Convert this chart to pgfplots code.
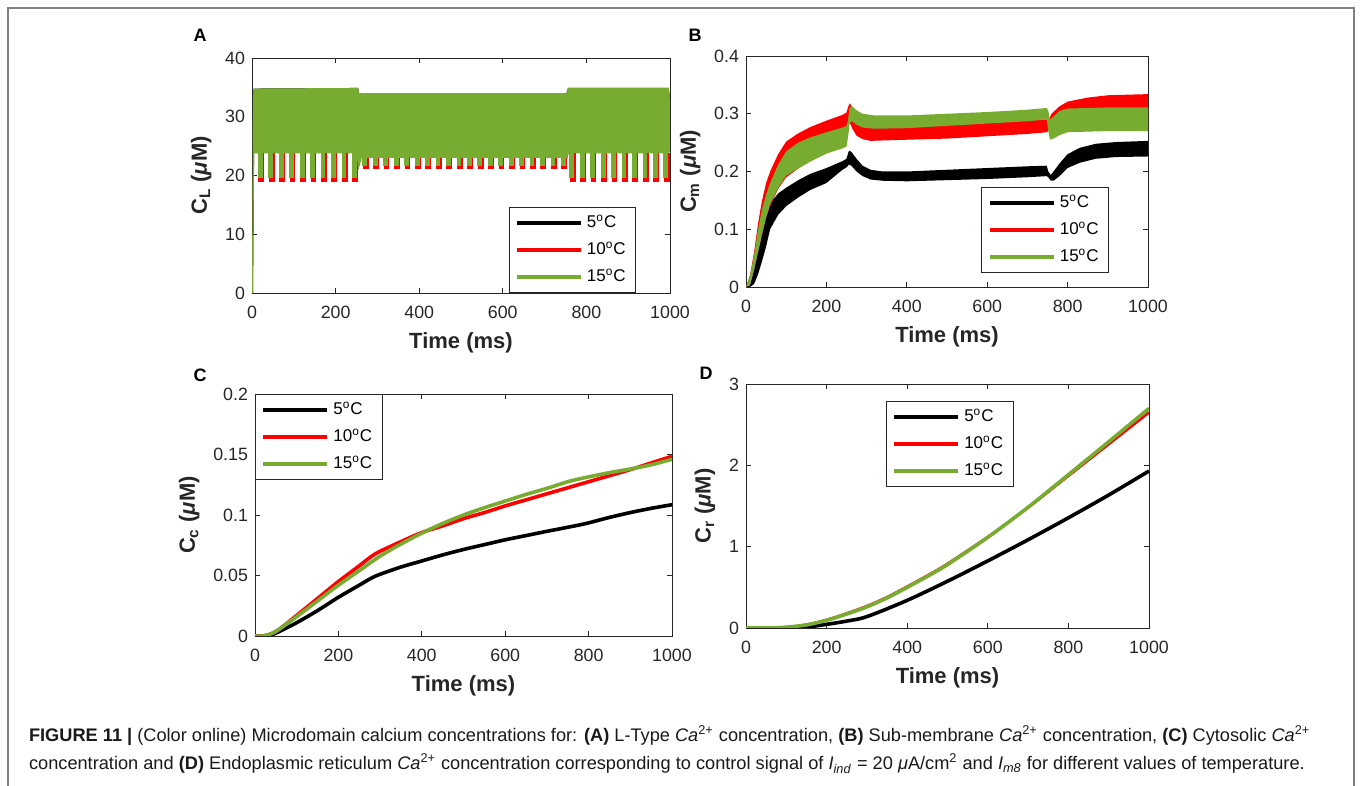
\documentclass[border=0pt]{standalone}
\usepackage{fontspec}
\setmainfont{Liberation Sans}
\usepackage{pgfplots}
\pgfplotsset{compat=1.18}

\definecolor{mgreen}{RGB}{119,172,48}
\definecolor{axgray}{RGB}{38,38,38}
\definecolor{framegray}{RGB}{128,128,128}

\pgfplotsset{
  panel/.style={
    scale only axis,
    anchor=south west,
    xmin=0, xmax=1000,
    xtick={0,200,400,600,800,1000},
    xticklabels={0,200,400,600,800,1000},
    axis line style={axgray, line width=0.4pt},
    every tick/.style={axgray, line width=0.4pt},
    major tick length=2.5pt,
    tick align=inside,
    tick label style={font=\fontsize{8.9}{10}\selectfont, text=axgray},
    xticklabel style={yshift=-3pt},
    label style={font=\fontsize{11}{13}\selectfont\bfseries, text=axgray},
    xlabel={Time (ms)},
    unbounded coords=jump,
    legend cell align=left,
    legend style={draw=axgray, line width=0.4pt, fill=white,
      font=\fontsize{8.5}{10}\selectfont, row sep=2pt, inner xsep=3pt, inner ysep=2pt},
    legend image code/.code={\draw[#1] (0pt,0pt) -- (32pt,0pt);},
  },
}

\newcommand{\templegend}{%
  \addlegendimage{black, line width=2pt}\addlegendentry{5\textsuperscript{o}C}
  \addlegendimage{red, line width=2pt}\addlegendentry{10\textsuperscript{o}C}
  \addlegendimage{mgreen, line width=2pt}\addlegendentry{15\textsuperscript{o}C}
}

\begin{document}
\begin{tikzpicture}
\useasboundingbox (0,0) rectangle (680pt,393pt);
% frame
\draw[framegray, line width=1pt] (4pt,0pt) -- (4pt,389pt) -- (677pt,389pt) -- (677pt,0pt);

% panel letters
\node[font=\fontsize{9}{10}\selectfont\bfseries] at (100pt,375.5pt) {A};
\node[font=\fontsize{9}{10}\selectfont\bfseries] at (347.5pt,375.5pt) {B};
\node[font=\fontsize{9}{10}\selectfont\bfseries] at (100pt,205.5pt) {C};
\node[font=\fontsize{9}{10}\selectfont\bfseries] at (353pt,206.5pt) {D};

% ---------------- A ----------------
\begin{axis}[panel, at={(126pt,246.5pt)}, width=209pt, height=117.5pt,
  ymin=0, ymax=40, ytick={0,10,20,30,40}, yticklabels={0,10,20,30,40},
  ylabel={C\textsubscript{L} (\textit{μ}M)},
  legend style={at={(0.919,0)}, anchor=south east}]
\templegend
% 5 C band (lies under the others)
\addplot[fill=black, draw=none, forget plot] coordinates {
  (0,0) (2,33) (4,34.8) (254,34.9) (256,34.0) (752,34.0) (756,34.9) (997,34.9) (1000,33)
  (1000,24.5) (997,23.8) (757,23.8) (755,23) (262,23) (254,21) (250,23.8) (5,23.8) (2.5,0)} -- cycle;
% 10 C dips
\addplot[red, line width=2.9pt, forget plot] coordinates {
  (22,23.8)(22,18.9)(22,nan) (47,23.8)(47,18.9)(47,nan) (72,23.8)(72,18.9)(72,nan)
  (97,23.8)(97,18.9)(97,nan) (122,23.8)(122,18.9)(122,nan) (147,23.8)(147,18.9)(147,nan)
  (172,23.8)(172,18.9)(172,nan) (197,23.8)(197,18.9)(197,nan) (222,23.8)(222,18.9)(222,nan)
  (247,23.8)(247,18.9)(247,nan)
  (272,23)(272,21.1)(272,nan) (297,23)(297,21.1)(297,nan) (322,23)(322,21.1)(322,nan)
  (347,23)(347,21.1)(347,nan) (372,23)(372,21.1)(372,nan) (397,23)(397,21.1)(397,nan)
  (422,23)(422,21.1)(422,nan) (447,23)(447,21.1)(447,nan) (472,23)(472,21.1)(472,nan)
  (497,23)(497,21.1)(497,nan) (522,23)(522,21.1)(522,nan) (547,23)(547,21.1)(547,nan)
  (572,23)(572,21.1)(572,nan) (597,23)(597,21.1)(597,nan) (622,23)(622,21.1)(622,nan)
  (647,23)(647,21.1)(647,nan) (672,23)(672,21.1)(672,nan) (697,23)(697,21.1)(697,nan)
  (722,23)(722,21.1)(722,nan) (747,23)(747,21.1)(747,nan)
  (767,23.8)(767,18.9)(767,nan) (792,23.8)(792,18.9)(792,nan) (817,23.8)(817,18.9)(817,nan)
  (842,23.8)(842,18.9)(842,nan) (867,23.8)(867,18.9)(867,nan) (892,23.8)(892,18.9)(892,nan)
  (917,23.8)(917,18.9)(917,nan) (942,23.8)(942,18.9)(942,nan) (967,23.8)(967,18.9)(967,nan)
  (992,23.8)(992,18.9)(992,nan)};
% 15 C band
\addplot[fill=mgreen, draw=none, forget plot] coordinates {
  (0,0) (2,33) (4,34.8) (254,34.9) (256,34.0) (752,34.0) (756,34.9) (997,34.9) (1000,33)
  (1000,24.5) (997,23.8) (757,23.8) (755,23) (262,23) (254,21) (250,23.8) (5,23.8) (2.5,0)} -- cycle;
% 15 C dips
\addplot[mgreen, line width=2.4pt, forget plot] coordinates {
  (20,24)(20,19.5)(20,nan) (45,24)(45,19.5)(45,nan) (70,24)(70,19.5)(70,nan)
  (95,24)(95,19.5)(95,nan) (120,24)(120,19.5)(120,nan) (145,24)(145,19.5)(145,nan)
  (170,24)(170,19.5)(170,nan) (195,24)(195,19.5)(195,nan) (220,24)(220,19.5)(220,nan)
  (245,24)(245,19.5)(245,nan)
  (270,23.2)(270,21.6)(270,nan) (295,23.2)(295,21.6)(295,nan) (320,23.2)(320,21.6)(320,nan)
  (345,23.2)(345,21.6)(345,nan) (370,23.2)(370,21.6)(370,nan) (395,23.2)(395,21.6)(395,nan)
  (420,23.2)(420,21.6)(420,nan) (445,23.2)(445,21.6)(445,nan) (470,23.2)(470,21.6)(470,nan)
  (495,23.2)(495,21.6)(495,nan) (520,23.2)(520,21.6)(520,nan) (545,23.2)(545,21.6)(545,nan)
  (570,23.2)(570,21.6)(570,nan) (595,23.2)(595,21.6)(595,nan) (620,23.2)(620,21.6)(620,nan)
  (645,23.2)(645,21.6)(645,nan) (670,23.2)(670,21.6)(670,nan) (695,23.2)(695,21.6)(695,nan)
  (720,23.2)(720,21.6)(720,nan) (745,23.2)(745,21.6)(745,nan)
  (765,24)(765,19.5)(765,nan) (790,24)(790,19.5)(790,nan) (815,24)(815,19.5)(815,nan)
  (840,24)(840,19.5)(840,nan) (865,24)(865,19.5)(865,nan) (890,24)(890,19.5)(890,nan)
  (915,24)(915,19.5)(915,nan) (940,24)(940,19.5)(940,nan) (965,24)(965,19.5)(965,nan)
  (990,24)(990,19.5)(990,nan)};
\end{axis}

% ---------------- B ----------------
\begin{axis}[panel, at={(373pt,249.5pt)}, width=201pt, height=115.5pt,
  ymin=0, ymax=0.4, ytick={0,0.1,0.2,0.3,0.4}, yticklabels={0,0.1,0.2,0.3,0.4},
  ylabel={C\textsubscript{m} (\textit{μ}M)},
  legend style={at={(0.903,0.061)}, anchor=south east}]
\templegend
\addplot[fill=black, draw=none, forget plot] coordinates {
  (0,0)(10,0.003)(20,0.03)(30,0.07)(40,0.1)(50,0.127)(60,0.145)(80,0.162)(100,0.172)
  (130,0.185)(160,0.196)(200,0.206)(240,0.218)(250,0.222)(256,0.236)(262,0.234)(275,0.222)
  (290,0.21)(310,0.203)(340,0.2)(400,0.2)(500,0.203)(600,0.206)(700,0.209)(748,0.21)
  (752,0.2)(758,0.194)(765,0.2)(780,0.214)(800,0.23)(830,0.241)(870,0.248)(920,0.251)(1000,0.253)
  (1000,0.226)(920,0.225)(870,0.222)(830,0.215)(800,0.206)(780,0.192)(765,0.184)(758,0.184)
  (752,0.19)(748,0.192)(700,0.19)(600,0.187)(500,0.185)(400,0.183)(340,0.184)(310,0.186)
  (290,0.192)(275,0.2)(262,0.21)(256,0.212)(250,0.207)(240,0.203)(200,0.18)(160,0.168)
  (130,0.155)(100,0.14)(80,0.125)(60,0.1)(50,0.07)(40,0.045)(30,0.022)(20,0.005)(10,0)} -- cycle;
\addplot[fill=red, draw=none, forget plot] coordinates {
  (0,0)(10,0.02)(20,0.06)(30,0.11)(40,0.15)(50,0.18)(60,0.2)(80,0.23)(100,0.252)(130,0.266)
  (160,0.277)(200,0.288)(240,0.298)(250,0.302)(254,0.312)(258,0.318)(264,0.312)(275,0.292)
  (290,0.28)(310,0.276)(350,0.276)(400,0.278)(500,0.281)(600,0.285)(700,0.289)(748,0.29)
  (752,0.288)(760,0.3)(780,0.313)(800,0.321)(850,0.328)(900,0.332)(1000,0.334)
  (1000,0.303)(900,0.302)(850,0.3)(800,0.293)(780,0.287)(760,0.283)(752,0.27)(748,0.268)
  (700,0.265)(600,0.261)(500,0.257)(400,0.255)(350,0.254)(310,0.253)(290,0.256)(275,0.262)
  (264,0.275)(258,0.285)(250,0.27)(240,0.245)(200,0.232)(160,0.22)(130,0.205)(100,0.19)
  (80,0.17)(60,0.14)(50,0.12)(40,0.09)(30,0.06)(20,0.03)(10,0.005)} -- cycle;
\addplot[fill=mgreen, draw=none, forget plot] coordinates {
  (0,0)(10,0.02)(20,0.055)(30,0.1)(40,0.135)(50,0.16)(60,0.18)(80,0.212)(100,0.235)(130,0.25)
  (160,0.259)(200,0.268)(240,0.276)(250,0.279)(254,0.29)(258,0.312)(264,0.313)(275,0.306)
  (290,0.3)(320,0.297)(400,0.297)(500,0.3)(600,0.303)(700,0.307)(748,0.31)(752,0.305)
  (756,0.29)(765,0.295)(780,0.305)(800,0.309)(900,0.311)(1000,0.311)
  (1000,0.27)(900,0.27)(800,0.268)(780,0.263)(765,0.257)(756,0.255)(752,0.27)(748,0.29)
  (700,0.287)(600,0.283)(500,0.279)(400,0.275)(320,0.274)(290,0.276)(275,0.281)(264,0.287)
  (258,0.284)(254,0.26)(250,0.243)(240,0.24)(200,0.231)(160,0.217)(130,0.205)(100,0.193)
  (80,0.172)(60,0.143)(50,0.12)(40,0.092)(30,0.06)(20,0.03)(10,0.005)} -- cycle;
\end{axis}

% ---------------- C ----------------
\begin{axis}[panel, at={(127.5pt,75pt)}, width=208.5pt, height=121pt,
  ymin=0, ymax=0.2, ytick={0,0.05,0.1,0.15,0.2}, yticklabels={0,0.05,0.1,0.15,0.2},
  ylabel={C\textsubscript{c} (\textit{μ}M)},
  legend style={at={(0,1)}, anchor=north west}]
\templegend
\addplot[black, line width=1.8pt, smooth, forget plot] coordinates {
  (0,0)(20,0)(40,0.001)(60,0.004)(100,0.011)(150,0.021)(200,0.032)(250,0.042)(280,0.048)
  (300,0.051)(350,0.057)(400,0.062)(450,0.067)(500,0.0715)(550,0.0755)(600,0.0795)
  (650,0.083)(700,0.0865)(770,0.0912)(800,0.0935)(850,0.098)(900,0.102)(950,0.1055)(1000,0.1085)};
\addplot[red, line width=1.8pt, smooth, forget plot] coordinates {
  (0,0)(20,0)(40,0.002)(60,0.006)(100,0.017)(150,0.031)(200,0.045)(250,0.058)(280,0.066)
  (300,0.07)(350,0.078)(400,0.0855)(450,0.091)(500,0.097)(550,0.102)(600,0.1075)(650,0.1125)
  (700,0.1175)(770,0.1245)(800,0.1275)(850,0.1325)(900,0.1375)(950,0.143)(1000,0.1485)};
\addplot[mgreen, line width=1.8pt, smooth, forget plot] coordinates {
  (0,0)(20,0)(40,0.002)(60,0.006)(100,0.016)(150,0.029)(200,0.042)(250,0.054)(300,0.066)
  (350,0.076)(400,0.085)(450,0.093)(500,0.1)(550,0.106)(600,0.1115)(650,0.117)(700,0.122)
  (750,0.1275)(780,0.13)(800,0.1315)(850,0.135)(900,0.138)(950,0.1415)(1000,0.146)};
\end{axis}

% ---------------- D ----------------
\begin{axis}[panel, at={(373pt,79pt)}, width=201.5pt, height=122pt,
  ymin=0, ymax=3, ytick={0,1,2,3}, yticklabels={0,1,2,3},
  ylabel={C\textsubscript{r} (\textit{μ}M)},
  legend style={at={(0.347,0.93)}, anchor=north west}]
\templegend
\addplot[black, line width=1.8pt, smooth, forget plot] coordinates {
  (0,0)(50,0)(100,0.002)(150,0.012)(200,0.045)(250,0.085)(300,0.14)(400,0.34)(500,0.575)
  (600,0.825)(700,1.085)(800,1.355)(900,1.635)(1000,1.93)};
\addplot[red, line width=1.3pt, smooth, forget plot] coordinates {
  (0,0)(50,0)(100,0.01)(150,0.04)(200,0.1)(250,0.18)(300,0.27)(350,0.38)(400,0.51)
  (450,0.645)(500,0.79)(600,1.12)(700,1.48)(800,1.87)(900,2.26)(1000,2.65)};
\addplot[mgreen, line width=1.8pt, smooth, forget plot] coordinates {
  (0,0)(50,0)(100,0.01)(150,0.038)(200,0.095)(250,0.172)(300,0.26)(350,0.37)(400,0.5)
  (450,0.635)(500,0.78)(600,1.115)(700,1.485)(800,1.885)(900,2.29)(1000,2.7)};
\end{axis}

% caption
\node[anchor=base west, font=\fontsize{9.1}{11}\selectfont, text=black!90] at (11pt,22pt)
  {\textbf{FIGURE 11 |} (Color online) Microdomain calcium concentrations for: \textbf{(A)} L-Type \textit{Ca}\textsuperscript{2+} concentration, \textbf{(B)} Sub-membrane \textit{Ca}\textsuperscript{2+} concentration, \textbf{(C)} Cytosolic \textit{Ca}\textsuperscript{2+}};
\node[anchor=base west, font=\fontsize{9.1}{11}\selectfont, text=black!90] at (11pt,8pt)
  {concentration and \textbf{(D)} Endoplasmic reticulum \textit{Ca}\textsuperscript{2+} concentration corresponding to control signal of \textit{I}\textsubscript{\textit{ind}} = 20 \textit{μ}A/cm\textsuperscript{2} and \textit{I}\textsubscript{\textit{m8}} for different values of temperature.};
\end{tikzpicture}
\end{document}
